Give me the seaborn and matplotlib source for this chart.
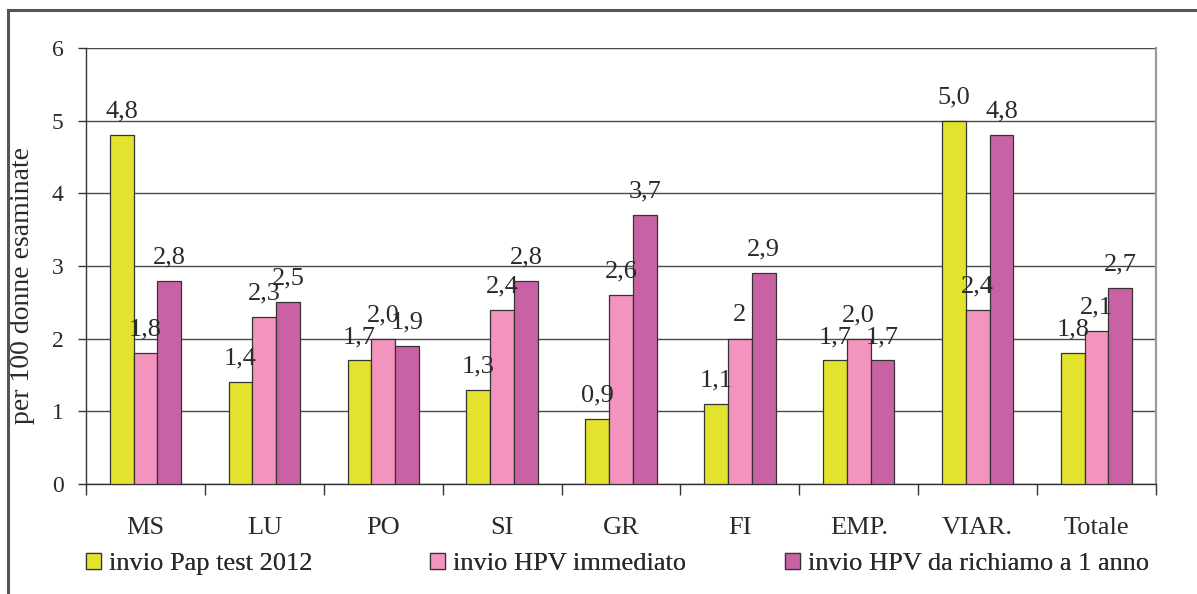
import matplotlib
matplotlib.use("Agg")
import matplotlib.pyplot as plt
from matplotlib.patches import Rectangle
import seaborn as sns
import pandas as pd

# Categories (ASL areas) and series
aree = ["MS", "LU", "PO", "SI", "GR", "FI", "EMP.", "VIAR.", "Totale"]
serie = ["invio Pap test 2012", "invio HPV immediato", "invio HPV da richiamo a 1 anno"]

pap_2012 = [4.8, 1.4, 1.7, 1.3, 0.9, 1.1, 1.7, 5.0, 1.8]
hpv_immediato = [1.8, 2.3, 2.0, 2.4, 2.6, 2.0, 2.0, 2.4, 2.1]
hpv_richiamo = [2.8, 2.5, 1.9, 2.8, 3.7, 2.9, 1.7, 4.8, 2.7]

# Value labels as printed above the bars
etichette_pap = ["4,8", "1,4", "1,7", "1,3", "0,9", "1,1", "1,7", "5,0", "1,8"]
etichette_imm = ["1,8", "2,3", "2,0", "2,4", "2,6", "2", "2,0", "2,4", "2,1"]
etichette_ric = ["2,8", "2,5", "1,9", "2,8", "3,7", "2,9", "1,7", "4,8", "2,7"]

y_ticks = [0, 1, 2, 3, 4, 5, 6]
y_label = "per 100 donne esaminate"

colori = ["#E3E32D", "#F294BE", "#C862A5"]

df = pd.DataFrame({
    "area": aree * 3,
    "serie": [serie[0]] * len(aree) + [serie[1]] * len(aree) + [serie[2]] * len(aree),
    "valore": pap_2012 + hpv_immediato + hpv_richiamo,
})

sns.set_theme(style="white")
plt.rcParams["font.family"] = ["Liberation Serif", "DejaVu Serif"]
TEXT = "#2a2a2a"

W, H = 1197, 594
fig = plt.figure(figsize=(W / 100, H / 100), dpi=100)
fig.patch.set_facecolor("white")
ax = fig.add_axes([86 / W, 1 - 484 / H, (1156 - 86) / W, (484 - 48) / H])

sns.barplot(data=df, x="area", y="valore", hue="serie", order=aree, hue_order=serie,
            palette=colori, saturation=1, width=0.6, errorbar=None,
            edgecolor="#333333", linewidth=0.9, ax=ax, zorder=3)

handles, labels = ax.get_legend_handles_labels()
if ax.get_legend() is not None:
    ax.get_legend().remove()

# Value labels
for cont, txts in zip(ax.containers, [etichette_pap, etichette_imm, etichette_ric]):
    ax.bar_label(cont, labels=txts, padding=9, fontsize=19, color=TEXT, zorder=5)

# Axes limits, grid, spines
ax.set_ylim(0, 6)
ax.set_xlim(-0.5, len(aree) - 0.5)
ax.set_yticks(y_ticks)
ax.set_yticklabels([str(t) for t in y_ticks])
ax.yaxis.grid(True, color="#4a4a4a", linewidth=1.0, zorder=0)
ax.set_axisbelow(True)
ax.set_xlabel("")
ax.set_ylabel(y_label, fontsize=20, color=TEXT)
ax.yaxis.set_label_coords(-(86 - 35) / (1156 - 86), 0.455)

ax.spines["top"].set_visible(False)
ax.spines["right"].set_color("#9a9a9a")
ax.spines["right"].set_linewidth(1.6)
ax.spines["left"].set_color("#333333")
ax.spines["left"].set_linewidth(1.0)
ax.spines["bottom"].set_color("#333333")
ax.spines["bottom"].set_linewidth(1.0)

ax.tick_params(axis="y", which="major", direction="out", length=6, width=1,
               color="#333333", labelsize=17, labelcolor=TEXT, pad=10, left=True)
ax.set_xticks(range(len(aree)))
ax.set_xticklabels(aree)
ax.tick_params(axis="x", which="major", length=0, pad=24, labelsize=19, labelcolor=TEXT)
ax.set_xticks([i - 0.5 for i in range(len(aree) + 1)], minor=True)
ax.tick_params(axis="x", which="minor", direction="out", length=8, width=1,
               color="#333333", bottom=True)

# Legend entries placed along the bottom
leg_x = [86 / W, 430 / W, 785 / W]
for h, l, x in zip(handles, labels, leg_x):
    h.set_edgecolor("#333333")
    lg = fig.legend([h], [l], loc="center left", bbox_to_anchor=(x, 1 - 564 / H),
                    frameon=False, fontsize=19, handlelength=0.58, handleheight=0.55,
                    handletextpad=0.3, borderpad=0, borderaxespad=0,
                    labelcolor=TEXT)
    fig.add_artist(lg)

# Outer frame of the chart
fig.patches.append(Rectangle((8 / W, -0.05), 1.2, 1 - 10 / H + 0.05,
                             transform=fig.transFigure, fill=False,
                             edgecolor="#555555", linewidth=2.2, zorder=10))

fig.savefig("out.png", dpi=100)
